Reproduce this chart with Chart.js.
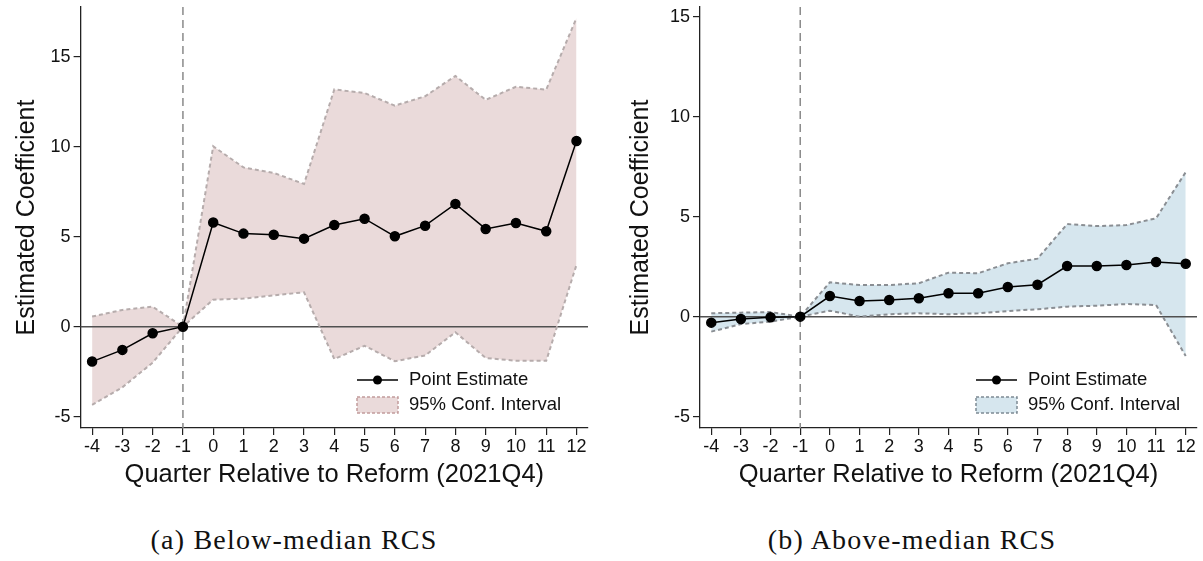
<!DOCTYPE html>
<html>
<head>
<meta charset="utf-8">
<script src="https://cdn.jsdelivr.net/npm/chart.js@4.4.1/dist/chart.umd.min.js"></script>
<style>
  body { margin: 0; background: #fff; width: 1203px; height: 561px; position: relative; overflow: hidden; }
  .panel { position: absolute; top: 0; }
  .caption { position: absolute; top: 524px; font-family: 'Liberation Serif', 'Times New Roman', serif;
             font-size: 28px; letter-spacing: 1.2px; text-align: center; color: #111; line-height: 32px; }
</style>
</head>
<body>
<div class="panel" style="left:0;width:600px;height:490px"><canvas id="chartBelow" width="600" height="490"></canvas></div>
<div class="panel" style="left:614px;width:589px;height:490px"><canvas id="chartAbove" width="589" height="490"></canvas></div>
<div class="caption" style="left:0;width:588px">(a) Below-median RCS</div>
<div class="caption" style="left:614px;width:596px">(b) Above-median RCS</div>
<script>
// Trimestres relativos à reforma
const quarters = [-4, -3, -2, -1, 0, 1, 2, 3, 4, 5, 6, 7, 8, 9, 10, 11, 12];
const xTicks = quarters;
const yTicks = [-5, 0, 5, 10, 15];
const reformQuarter = -1;
const zeroLine = 0;

// (a) abaixo da mediana
const belowEst   = [-1.94, -1.29, -0.37, 0, 5.79, 5.17, 5.11, 4.89, 5.65, 6.00, 5.02, 5.61, 6.82, 5.43, 5.76, 5.30, 10.32];
const belowUpper = [0.56, 0.93, 1.11, 0, 10.02, 8.85, 8.54, 7.93, 13.18, 12.98, 12.28, 12.80, 13.93, 12.60, 13.33, 13.17, 17.15];
const belowLower = [-4.35, -3.37, -2.00, 0, 1.50, 1.56, 1.74, 1.91, -1.80, -1.06, -1.92, -1.60, -0.31, -1.74, -1.89, -1.90, 3.44];

// (b) acima da mediana
const aboveEst   = [-0.30, -0.12, -0.03, 0, 1.03, 0.78, 0.83, 0.92, 1.17, 1.17, 1.48, 1.60, 2.53, 2.53, 2.58, 2.73, 2.65];
const aboveUpper = [0.17, 0.20, 0.23, 0, 1.72, 1.58, 1.58, 1.67, 2.20, 2.17, 2.67, 2.90, 4.63, 4.53, 4.58, 4.92, 7.23];
const aboveLower = [-0.75, -0.37, -0.25, 0, 0.30, 0.00, 0.12, 0.17, 0.12, 0.17, 0.28, 0.37, 0.50, 0.55, 0.63, 0.58, -1.97];

const sans = "'Liberation Sans', Helvetica, Arial, sans-serif";

// Linhas de referência: zero e trimestre da reforma
const refLines = {
    id: 'refLines',
    beforeDatasetsDraw(chart) {
        const { ctx, chartArea: a, scales: { x, y } } = chart;
        ctx.save();
        const y0 = y.getPixelForValue(zeroLine);
        ctx.strokeStyle = '#505050';
        ctx.lineWidth = 1.5;
        ctx.beginPath(); ctx.moveTo(a.left, y0); ctx.lineTo(a.right, y0); ctx.stroke();
        const xr = x.getPixelForValue(reformQuarter);
        ctx.strokeStyle = '#8a8a8a';
        ctx.setLineDash([8, 5]);
        ctx.beginPath(); ctx.moveTo(xr, a.top); ctx.lineTo(xr, a.bottom); ctx.stroke();
        ctx.restore();
    }
};

// Legenda desenhada dentro da área do gráfico (canto inferior direito)
const ciLegend = {
    id: 'ciLegend',
    afterDraw(chart, args, opts) {
        const { ctx, chartArea: a } = chart;
        const ds = chart.data.datasets;
        const x0 = a.right - opts.offset;
        const y1 = a.bottom - 48;
        ctx.save();
        ctx.font = '18.5px ' + sans;
        ctx.textBaseline = 'middle';
        // item 1: estimativa pontual
        ctx.strokeStyle = '#000';
        ctx.lineWidth = 1.5;
        ctx.beginPath(); ctx.moveTo(x0, y1); ctx.lineTo(x0 + 41, y1); ctx.stroke();
        ctx.beginPath(); ctx.arc(x0 + 20.5, y1, 4.5, 0, Math.PI * 2); ctx.fillStyle = '#000'; ctx.fill();
        ctx.fillStyle = '#111';
        ctx.fillText(ds[0].label, x0 + 52, y1);
        // item 2: intervalo de confiança
        const by = a.bottom - 31;
        ctx.fillStyle = opts.fill;
        ctx.fillRect(x0, by, 41, 16);
        ctx.strokeStyle = opts.border;
        ctx.setLineDash([3, 2]);
        ctx.strokeRect(x0, by, 41, 16);
        ctx.setLineDash([]);
        ctx.fillStyle = '#111';
        ctx.fillText(ds[1].label, x0 + 52, by + 8);
        ctx.restore();
    }
};

const toPoints = (vals) => quarters.map((q, i) => ({ x: q, y: vals[i] }));

const criarGrafico = (id, est, upper, lower, cfg) => {
    const ctx = document.getElementById(id).getContext('2d');
    return new Chart(ctx, {
        type: 'line',
        data: {
            datasets: [
                {
                    label: 'Point Estimate',
                    data: toPoints(est),
                    borderColor: '#000',
                    backgroundColor: '#000',
                    borderWidth: 1.5,
                    pointRadius: 4.5,
                    pointHoverRadius: 4.5,
                    fill: false,
                    tension: 0,
                    order: 0
                },
                {
                    label: '95% Conf. Interval',
                    data: toPoints(upper),
                    borderColor: cfg.ciLine,
                    backgroundColor: cfg.ciFill,
                    borderWidth: 2,
                    borderDash: [4, 3],
                    pointRadius: 0,
                    fill: '+1',
                    tension: 0,
                    order: 1
                },
                {
                    label: '95% Conf. Interval (lower)',
                    data: toPoints(lower),
                    borderColor: cfg.ciLine,
                    borderWidth: 2,
                    borderDash: [4, 3],
                    pointRadius: 0,
                    fill: false,
                    tension: 0,
                    order: 2
                }
            ]
        },
        options: {
            responsive: false,
            animation: false,
            devicePixelRatio: 1,
            layout: { padding: { top: 7, right: cfg.padRight, bottom: 0, left: 0 } },
            plugins: {
                legend: { display: false },
                tooltip: { enabled: false },
                filler: { drawTime: 'beforeDraw' },
                ciLegend: { offset: cfg.legendOffset, fill: cfg.ciFill, border: cfg.legendBorder }
            },
            scales: {
                x: {
                    type: 'linear',
                    min: -4.38,
                    max: 12.38,
                    afterBuildTicks: (axis) => { axis.ticks = xTicks.map(v => ({ value: v })); },
                    afterFit: (axis) => { axis.height = 62; axis.paddingLeft = 0; axis.paddingRight = 0; },
                    grid: { drawOnChartArea: false, drawTicks: true, tickLength: 7, color: '#222', lineWidth: 1.2 },
                    border: { display: true, color: '#222', width: 1.3 },
                    ticks: { color: '#111', font: { family: sans, size: 18 }, padding: 1, maxRotation: 0, autoSkip: false,
                             callback: (v) => String(v) },
                    title: { display: true, text: 'Quarter Relative to Reform (2021Q4)', color: '#111',
                             font: { family: sans, size: 25.5 }, padding: { top: 0, bottom: 0 } }
                },
                y: {
                    min: cfg.yMin,
                    max: cfg.yMax,
                    afterBuildTicks: (axis) => { axis.ticks = yTicks.map(v => ({ value: v })); },
                    afterFit: (axis) => { axis.width = cfg.yWidth; axis.paddingTop = 0; axis.paddingBottom = 0; },
                    grid: { drawOnChartArea: false, drawTicks: true, tickLength: 7, color: '#222', lineWidth: 1.2 },
                    border: { display: true, color: '#222', width: 1.3 },
                    ticks: { color: '#111', font: { family: sans, size: 18 }, padding: 3,
                             callback: (v) => String(v) },
                    title: { display: true, text: 'Estimated Coefficient', color: '#111',
                             font: { family: sans, size: 25 }, padding: { top: 12, bottom: 0 } }
                }
            }
        },
        plugins: [refLines, ciLegend]
    });
};

criarGrafico('chartBelow', belowEst, belowUpper, belowLower, {
    yMin: -5.63, yMax: 17.76, yWidth: 80.6, padRight: 12, legendOffset: 231,
    ciFill: '#eadada', ciLine: '#b6acac', legendBorder: '#c29c9c'
});

criarGrafico('chartAbove', aboveEst, aboveUpper, aboveLower, {
    yMin: -5.57, yMax: 15.49, yWidth: 86, padRight: 5, legendOffset: 221,
    ciFill: '#d6e6ee', ciLine: '#8a8e93', legendBorder: '#7e8a94'
});
</script>
</body>
</html>
